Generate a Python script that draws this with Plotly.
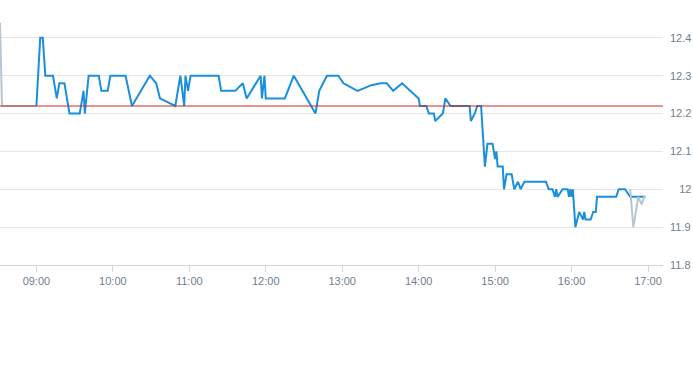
import plotly.graph_objects as go

DAY = "2024-01-05 "

# Main session (blue) - time, price
main_times = ["09:00", "09:03", "09:05", "09:07", "09:13", "09:16", "09:18", "09:22", "09:26", "09:34",
              "09:37", "09:38", "09:41", "09:49", "09:51", "09:56", "09:58", "10:10", "10:15", "10:29",
              "10:34", "10:37", "10:49", "10:53", "10:56", "10:57", "10:59", "11:01", "11:23", "11:25",
              "11:36", "11:42", "11:45", "11:52", "11:56", "11:57", "11:59", "12:00", "12:15", "12:22",
              "12:39", "12:42", "12:48", "12:57", "13:01", "13:12", "13:23", "13:30", "13:35", "13:40",
              "13:47", "14:00", "14:01", "14:06", "14:08", "14:12", "14:13", "14:19", "14:21", "14:25",
              "14:40", "14:41", "14:44", "14:46", "14:49", "14:52", "14:54", "14:58", "15:00", "15:01",
              "15:02", "15:06", "15:07", "15:09", "15:13", "15:15", "15:18", "15:20", "15:23", "15:40",
              "15:42", "15:45", "15:47", "15:48", "15:49", "15:53", "15:57", "15:58", "15:59", "16:00",
              "16:01", "16:03", "16:06", "16:09", "16:10", "16:11", "16:15", "16:17", "16:19", "16:20",
              "16:35", "16:37", "16:42", "16:46", "16:58"]
main_prices = [12.22, 12.40, 12.40, 12.30, 12.30, 12.24, 12.28, 12.28, 12.20, 12.20,
               12.26, 12.20, 12.30, 12.30, 12.26, 12.26, 12.30, 12.30, 12.22, 12.30,
               12.28, 12.24, 12.22, 12.30, 12.22, 12.30, 12.26, 12.30, 12.30, 12.26,
               12.26, 12.28, 12.24, 12.28, 12.30, 12.24, 12.30, 12.24, 12.24, 12.30,
               12.20, 12.26, 12.30, 12.30, 12.28, 12.26, 12.275, 12.28, 12.28, 12.26,
               12.28, 12.24, 12.22, 12.22, 12.20, 12.20, 12.18, 12.20, 12.24, 12.22,
               12.22, 12.18, 12.20, 12.22, 12.22, 12.06, 12.12, 12.12, 12.08, 12.10,
               12.06, 12.06, 12.00, 12.04, 12.04, 12.00, 12.02, 12.00, 12.02, 12.02,
               12.00, 12.00, 11.98, 12.00, 11.98, 12.00, 12.00, 11.98, 12.00, 11.98,
               12.00, 11.90, 11.94, 11.92, 11.94, 11.92, 11.92, 11.94, 11.94, 11.98,
               11.98, 12.00, 12.00, 11.98, 11.98]

# Pre/post session (grey)
pre_times = ["08:31:26", "08:33", "09:00"]
pre_prices = [12.44, 12.22, 12.22]
post_times = ["16:46", "16:48:30", "16:52:20", "16:55", "16:57", "16:58"]
post_prices = [12.00, 11.90, 11.98, 11.96, 11.98, 11.98]

prev_close = 12.22

x_ticks = ["09:00", "10:00", "11:00", "12:00", "13:00", "14:00", "15:00", "16:00", "17:00"]
y_ticks = [11.8, 11.9, 12.0, 12.1, 12.2, 12.3, 12.4]
# labels right-aligned by padding with no-break spaces (space = period width in Arial metrics)
y_tick_text = ["11.8", "11.9", "\u00a0\u00a0\u00a012", "12.1", "12.2", "12.3", "12.4"]

def ts(lst):
    return [DAY + t for t in lst]

GREY = "#b8c5cf"
BLUE = "#1b8fdc"
LABEL = "#6f7e8d"

fig = go.Figure()
fig.add_trace(go.Scatter(x=ts(pre_times), y=pre_prices, mode="lines",
                         line=dict(color=GREY, width=2), hoverinfo="skip", showlegend=False))
fig.add_trace(go.Scatter(x=ts(main_times), y=main_prices, mode="lines",
                         line=dict(color=BLUE, width=2), showlegend=False))
fig.add_trace(go.Scatter(x=ts(post_times), y=post_prices, mode="lines",
                         line=dict(color=GREY, width=2), hoverinfo="skip", showlegend=False))

fig.add_shape(type="line", xref="x domain", x0=0, x1=1, yref="y", y0=prev_close, y1=prev_close,
              line=dict(color="#cc2b22", width=1), layer="above")

fig.update_layout(
    width=693, height=365,
    margin=dict(l=0, r=3, t=0, b=100),
    paper_bgcolor="white", plot_bgcolor="white",
    font=dict(family="Liberation Sans, Arial, sans-serif", size=11, color=LABEL),
    xaxis=dict(
        domain=[0, 663 / 690],
        range=[DAY + "08:31:26", DAY + "17:11:46"],
        tickvals=ts(x_ticks), ticktext=x_ticks,
        showgrid=False, zeroline=False,
        showline=True, linecolor="#ccd6eb", linewidth=1,
        ticks="outside", ticklen=6, tickcolor="#ccd6eb",
        tickfont=dict(size=11, color=LABEL),
    ),
    yaxis=dict(
        range=[11.8, 12.5],
        side="right",
        tickvals=y_ticks, ticktext=y_tick_text,
        showgrid=True, gridcolor="#e6e6e6", gridwidth=1,
        zeroline=False, showline=False, ticks="",
        ticklabelstandoff=6,
        tickfont=dict(size=11, color=LABEL),
        automargin=False,
    ),
)

fig.write_html("out.html", config={"displayModeBar": False},
               post_script="document.body.style.margin='0';")
